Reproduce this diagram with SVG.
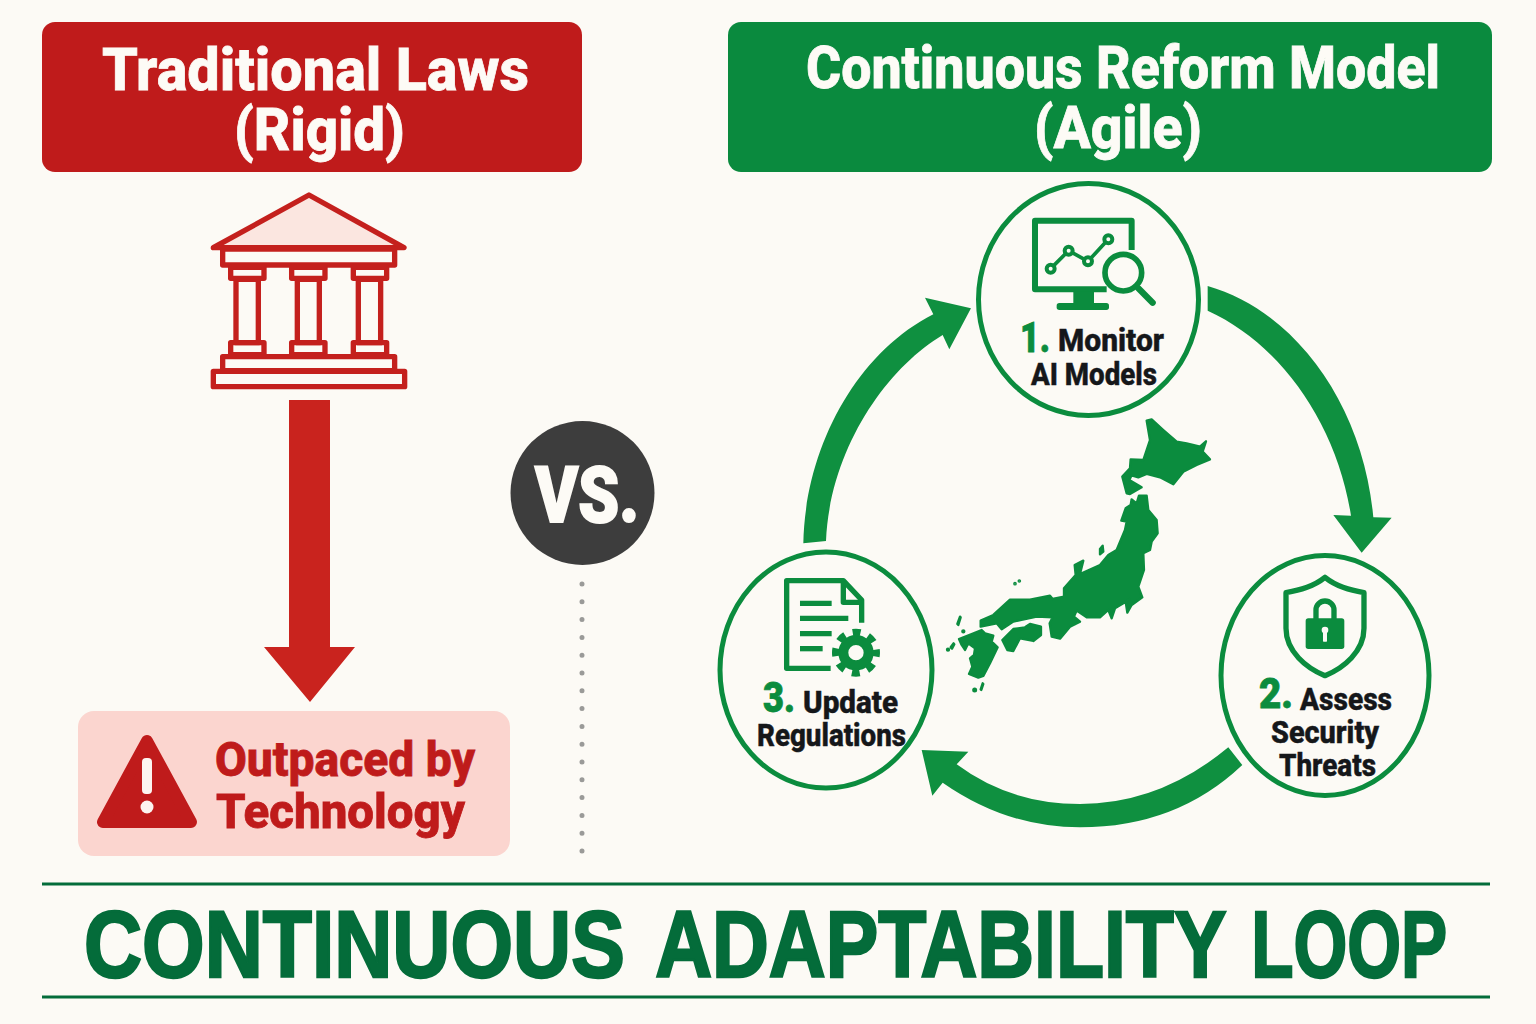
<svg xmlns="http://www.w3.org/2000/svg" width="1536" height="1024" viewBox="0 0 1536 1024">
<style>
text{font-family:"Roboto","Liberation Sans",sans-serif;font-weight:800}
.hd{fill:#fdfbf6;font-size:60px;stroke:#fdfbf6;stroke-width:.8}
.lb{fill:#15171a;font-size:32px;stroke:#15171a;stroke-width:.5}
.num{fill:#0b8c3e;font-size:43px;font-weight:900;stroke:#0b8c3e;stroke-width:.8}
.warn{fill:#bf1b1b;font-size:49px;stroke:#bf1b1b;stroke-width:.8}
.ring{fill:none;stroke:#0b8c3e;stroke-width:5}
.ic{fill:none;stroke:#0b8c3e;stroke-width:16;stroke-linejoin:round}
.icr{fill:none;stroke:#0b8c3e;stroke-width:16;stroke-linecap:round;stroke-linejoin:round}
.gf{fill:#0b8c3e}
.arc{fill:#0f9040}
.t{fill:none;stroke:#c4201d;stroke-width:16;stroke-linejoin:round}
.rule{stroke:#046c3a;stroke-width:3}
</style>
<rect width="1536" height="1024" fill="#fcfaf5"/>
<g id="traditional-header">
<rect x="42" y="22" width="540" height="150" rx="13" fill="#bf1b1b"/>
<text class="hd" x="102" y="90" textLength="427" lengthAdjust="spacingAndGlyphs">Traditional Laws</text>
<text class="hd" x="234" y="150" textLength="171" lengthAdjust="spacingAndGlyphs">(Rigid)</text>
</g>
<g id="reform-header">
<rect x="728" y="22" width="764" height="150" rx="13" fill="#0a8a3e"/>
<text class="hd" x="806" y="88" textLength="634" lengthAdjust="spacingAndGlyphs">Continuous Reform Model</text>
<text class="hd" x="1034" y="148" textLength="168" lengthAdjust="spacingAndGlyphs">(Agile)</text>
</g>
<g id="temple" transform="translate(190 180) scale(.3333)">
<polygon class="t" points="70,203 357,45 642,203" style="fill:#fbe6e0"/>
<rect class="t" x="98" y="207" width="516" height="48"/>
<rect class="t" x="122" y="262" width="100" height="33"/><rect class="t" x="305" y="262" width="100" height="33"/><rect class="t" x="490" y="262" width="100" height="33"/>
<rect class="t" x="138" y="298" width="67" height="190"/><rect class="t" x="322" y="298" width="66" height="190"/><rect class="t" x="505" y="298" width="67" height="190"/>
<rect class="t" x="122" y="488" width="100" height="36"/><rect class="t" x="305" y="488" width="100" height="36"/><rect class="t" x="490" y="488" width="100" height="36"/>
<rect class="t" x="98" y="530" width="516" height="42"/>
<rect class="t" x="70" y="574" width="574" height="46"/>
</g>
<g id="connectors">
<polygon id="down-arrow" fill="#c9231e" points="289,400 330,400 330,647 355,647 310,702 264,647 289,647"/>
<line id="divider" x1="582" y1="584" x2="582" y2="852" stroke="#9a9a98" stroke-width="5" stroke-linecap="round" stroke-dasharray="0 17.8"/>
<path id="arrow-1-2" class="arc" transform="translate(1190 270) scale(.3333)" d="M53,48 C310,120 520,400 550,742 L605,743 515,848 430,735 483,737 C440,460 270,220 53,122Z"/>
<path id="arrow-2-3" class="arc" transform="translate(900 730) scale(.3333)" d="M985,52 Q780,222 540,222 Q330,222 170,103 L205,65 65,60 97,197 128,158 Q320,292 540,292 Q830,292 1027,105Z"/>
<path id="arrow-3-1" class="arc" transform="translate(790 285) scale(.3333)" d="M40,775 C45,500 190,210 430,88 L405,38 543,70 478,193 458,150 C290,250 120,490 108,768Z"/>
</g>
<g id="warning">
<rect x="78" y="711" width="432" height="145" rx="16" fill="#fbd5cf"/>
<polygon points="147,741 103,822 191,822" fill="#bf1b1b" stroke="#bf1b1b" stroke-width="12" stroke-linejoin="round"/>
<rect x="142" y="758" width="10" height="36" rx="4" fill="#fdf4f0"/>
<circle cx="147" cy="807" r="6.500" fill="#fdf4f0"/>
<text class="warn" x="215" y="776" textLength="260" lengthAdjust="spacingAndGlyphs">Outpaced by</text>
<text class="warn" x="216" y="828" textLength="249" lengthAdjust="spacingAndGlyphs">Technology</text>
</g>
<g id="vs">
<circle cx="582.500" cy="493" r="72" fill="#3d3d3d"/>
<text x="535" y="522" font-size="78" fill="#fdfbf6" stroke="#fdfbf6" stroke-width="2" style="font-weight:900" textLength="104" lengthAdjust="spacingAndGlyphs">VS.</text>
</g>
<g id="japan" transform="translate(930 400) scale(.3333)" fill="#0b8c3e" stroke="#0b8c3e" stroke-width="7" stroke-linejoin="round">
<path d="M650,62 665,58 700,90 740,125 770,130 810,140 828,124 818,155 840,178 800,195 760,215 730,253 690,232 650,222 625,232 605,226 598,240 635,262 600,282 590,280 577,230 600,205 602,178 640,180 650,150 660,120Z"/>
<path d="M605,298 620,310 627,287 650,287 655,330 680,360 683,400 665,425 660,450 640,460 642,510 625,560 637,592 605,615 592,638 587,605 598,597 580,610 555,625 545,655 535,630 510,652 470,652 440,632 432,650 450,665 420,680 390,716 365,710 359,670 368,652 320,650 250,665 215,688 200,670 152,680 152,662 190,645 240,599 300,599 360,587 368,597 402,590 402,565 437,525 434,495 460,482 450,522 510,495 535,465 560,450 585,390 590,365 574,362 587,325 602,315Z"/>
<path d="M217,720 250,687 285,682 300,672 333,680 333,705 310,723 270,715 250,753 232,750Z"/>
<path d="M87,717 125,702 155,690 165,700 190,707 185,725 203,742 180,790 160,828 145,833 117,822 127,800 120,775 132,765 135,745 115,730 105,750 95,735Z"/>
<path d="M510,447 518,437 520,455 510,463Z"/>
<path d="M82,672 90,650 92,652 85,675Z"/><path d="M152,868 158,850 160,852 154,870Z"/><path d="M62,742 71,730 73,733 66,746Z"/>
<circle cx="100" cy="694" r="3"/><circle cx="54" cy="749" r="3"/><circle cx="134" cy="870" r="4"/><circle cx="255" cy="551" r="2"/><circle cx="268" cy="543" r="2"/>
</g>
<g id="node-1">
<ellipse class="ring" cx="1088.500" cy="299.500" rx="110" ry="116"/>
<g transform="translate(970 180) scale(.3333)">
<path class="ic" d="M485,210 V122 H195 V328 H410" style="stroke-width:18"/>
<polygon class="gf" points="310,335 372,335 372,372 310,372"/>
<rect class="gf" x="260" y="369" width="157" height="21" rx="8"/>
<polyline class="ic" points="242,266 296,212 354,244 415,178" style="stroke-width:11"/>
<g fill="#fcfaf5" stroke="#0b8c3e" stroke-width="12"><circle cx="242" cy="266" r="12"/><circle cx="296" cy="212" r="12"/><circle cx="354" cy="244" r="12"/><circle cx="415" cy="178" r="12"/></g>
<circle cx="460" cy="278" r="55" fill="#fcfaf5" stroke="#0b8c3e" stroke-width="17"/>
<line class="icr" x1="505" y1="325" x2="548" y2="368" style="stroke-width:19"/>
</g>
<text class="num" x="1020" y="352" textLength="30" lengthAdjust="spacingAndGlyphs">1.</text>
<text class="lb" x="1058" y="351" textLength="106" lengthAdjust="spacingAndGlyphs">Monitor</text>
<text class="lb" x="1031" y="385" textLength="126" lengthAdjust="spacingAndGlyphs">AI Models</text>
</g>
<g id="node-2">
<ellipse class="ring" cx="1325" cy="675.500" rx="104" ry="120"/>
<g transform="translate(1210 545) scale(.3333)">
<path class="ic" d="M345,97 C310,125 270,135 228,143 V250 C228,320 290,370 345,392 C400,370 462,320 462,250 V143 C420,135 380,125 345,97Z"/>
<rect class="gf" x="287" y="220" width="116" height="92" rx="8"/>
<path class="ic" d="M318,225 V195 a27,27 0 0 1 54,0 V225"/>
<circle cx="345" cy="255" r="10" fill="#fcfaf5"/><rect x="339" y="258" width="12" height="32" rx="2" fill="#fcfaf5"/>
</g>
<text class="num" x="1259" y="708" textLength="34" lengthAdjust="spacingAndGlyphs">2.</text>
<text class="lb" x="1300" y="710" textLength="92" lengthAdjust="spacingAndGlyphs">Assess</text>
<text class="lb" x="1271" y="743" textLength="108" lengthAdjust="spacingAndGlyphs">Security</text>
<text class="lb" x="1279" y="776" textLength="97" lengthAdjust="spacingAndGlyphs">Threats</text>
</g>
<g id="node-3">
<ellipse class="ring" cx="826" cy="670" rx="106" ry="118"/>
<g transform="translate(710 540) scale(.3333)">
<path class="ic" d="M455,248 V180 L400,122 H230 V385 H362"/>
<path class="ic" d="M400,125 V187 H455"/>
<g class="ic"><line x1="270" y1="190" x2="365" y2="190"/><line x1="270" y1="235" x2="415" y2="235"/><line x1="270" y1="281" x2="365" y2="281"/><line x1="270" y1="326" x2="338" y2="326"/></g>
<circle cx="438" cy="338" r="38" fill="none" stroke="#0b8c3e" stroke-width="30"/>
<circle cx="438" cy="338" r="60" fill="none" stroke="#0b8c3e" stroke-width="24" stroke-dasharray="23.560 23.560" stroke-dashoffset="11.780"/>
</g>
<text class="num" x="763" y="712" textLength="32" lengthAdjust="spacingAndGlyphs">3.</text>
<text class="lb" x="803" y="713" textLength="95" lengthAdjust="spacingAndGlyphs">Update</text>
<text class="lb" x="757" y="746" textLength="149" lengthAdjust="spacingAndGlyphs">Regulations</text>
</g>
<g id="banner">
<line class="rule" x1="42" y1="884" x2="1490" y2="884"/>
<line class="rule" x1="42" y1="997" x2="1490" y2="997"/>
<text transform="translate(0 976.500) scale(.8 1)" font-size="94" fill="#046c3a" stroke="#046c3a" stroke-width="2.500" style="font-family:'Liberation Sans',sans-serif;font-weight:700"><tspan x="105" textLength="676" lengthAdjust="spacingAndGlyphs">CONTINUOUS</tspan> <tspan x="819" textLength="714" lengthAdjust="spacingAndGlyphs">ADAPTABILITY</tspan> <tspan x="1564" textLength="245" lengthAdjust="spacingAndGlyphs">LOOP</tspan></text>
</g>
</svg>
